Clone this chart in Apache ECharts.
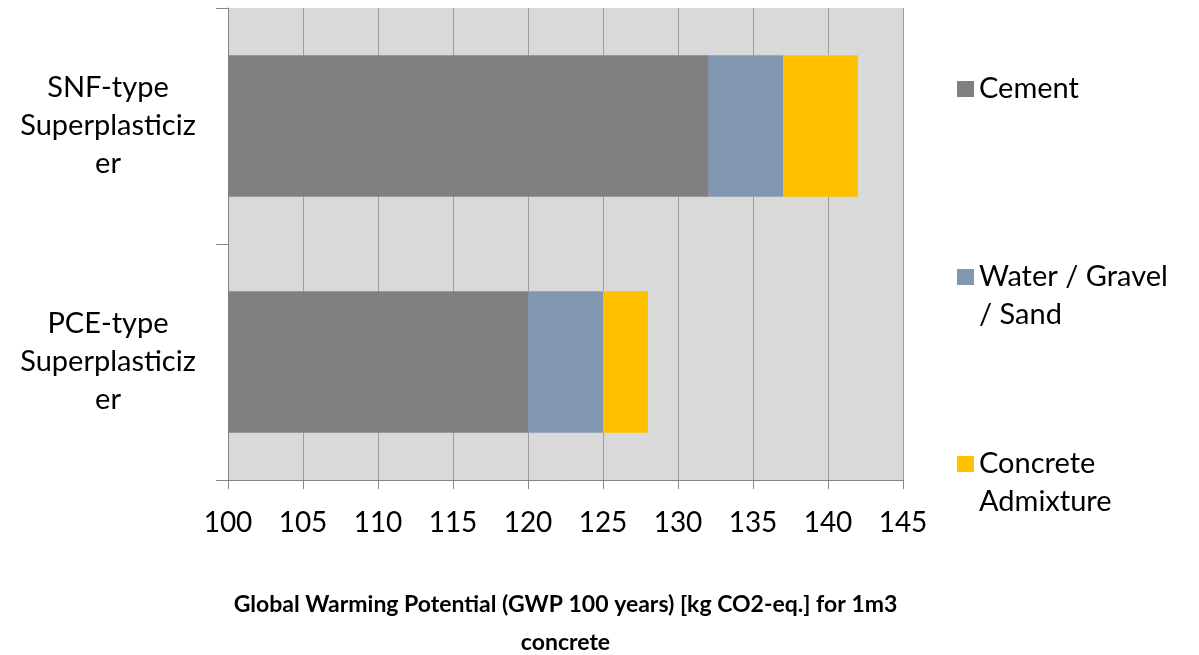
<!DOCTYPE html>
<html>
<head>
<meta charset="utf-8">
<script src="https://cdn.jsdelivr.net/npm/echarts@6/dist/echarts.min.js"></script>
<style>
  html, body { margin: 0; padding: 0; background: #fff; }
  #chart { width: 1199px; height: 655px; }
</style>
</head>
<body>
<div id="chart"></div>
<script>
// Categories (top to bottom) and stacked contributions, kg CO2-eq. per m3
const categories = ['SNF-type Superplasticizer', 'PCE-type Superplasticizer'];
const cement = [132, 120];
const waterGravelSand = [5, 5];
const concreteAdmixture = [5, 3];
const xTicks = { min: 100, max: 145, step: 5 };

const seriesNames = ['Cement', 'Water / Gravel / Sand', 'Concrete Admixture'];
const legendText = {
  'Cement': 'Cement',
  'Water / Gravel / Sand': 'Water / Gravel\n/ Sand',
  'Concrete Admixture': 'Concrete\nAdmixture'
};
const colors = ['#808080', '#8497B0', '#FFC000'];
const FONT = 'Lato';
const LINE_H = 38;

// One legend block per series so each can sit at its own height.
// Two-line entries get a leading blank line so the marker lines up with the first line.
function legendFor(name, firstLineCenter) {
  const twoLine = legendText[name].indexOf('\n') >= 0;
  return {
    data: [name],
    orient: 'vertical',
    left: 957,
    top: firstLineCenter - (twoLine ? LINE_H * 1.5 : LINE_H / 2),
    padding: 0,
    itemWidth: 17,
    itemHeight: 16,
    icon: 'rect',
    selectedMode: false,
    formatter: n => (twoLine ? '\n' : '') + legendText[n],
    textStyle: { fontFamily: FONT, fontSize: 29, color: '#000', lineHeight: LINE_H }
  };
}

const chart = echarts.init(document.getElementById('chart'), null, { renderer: 'canvas' });
chart.setOption({
  animation: false,
  grid: {
    left: 228, right: 296, top: 8, bottom: 175,
    outerBoundsMode: 'none', containLabel: false,
    show: true, backgroundColor: '#D9D9D9', borderWidth: 0
  },
  legend: [
    legendFor(seriesNames[0], 89),
    legendFor(seriesNames[1], 277),
    legendFor(seriesNames[2], 464)
  ],
  xAxis: {
    type: 'value',
    min: xTicks.min, max: xTicks.max, interval: xTicks.step,
    axisLine: { show: true, lineStyle: { color: '#868686', width: 1 } },
    axisTick: { show: true, length: 9, lineStyle: { color: '#868686' } },
    splitLine: { show: true, lineStyle: { color: '#9E9E9E', width: 1 } },
    axisLabel: { fontFamily: FONT, fontSize: 28, color: '#000', margin: 29 },
    name: 'Global Warming Potential (GWP 100 years) [kg CO2-eq.] for 1m3\nconcrete',
    nameLocation: 'middle',
    nameGap: 106,
    nameTextStyle: { fontFamily: FONT, fontSize: 23, fontWeight: 'bold', color: '#000', lineHeight: 38 }
  },
  yAxis: {
    type: 'category',
    data: categories,
    inverse: true,
    axisLine: { show: true, lineStyle: { color: '#868686', width: 1 } },
    axisTick: { show: true, length: 12, lineStyle: { color: '#868686' } },
    splitLine: { show: false },
    axisLabel: {
      fontFamily: FONT, fontSize: 29, color: '#000',
      align: 'center', margin: 120, lineHeight: 38,
      formatter: v => v.replace(' ', '\n').replace('Superplasticiz', 'Superplasticiz\n')
    }
  },
  series: [
    { name: seriesNames[0], type: 'bar', stack: 'gwp', data: cement, barWidth: '60%', itemStyle: { color: colors[0] } },
    { name: seriesNames[1], type: 'bar', stack: 'gwp', data: waterGravelSand, barWidth: '60%', itemStyle: { color: colors[1] } },
    { name: seriesNames[2], type: 'bar', stack: 'gwp', data: concreteAdmixture, barWidth: '60%', itemStyle: { color: colors[2] } }
  ]
});
</script>
</body>
</html>
